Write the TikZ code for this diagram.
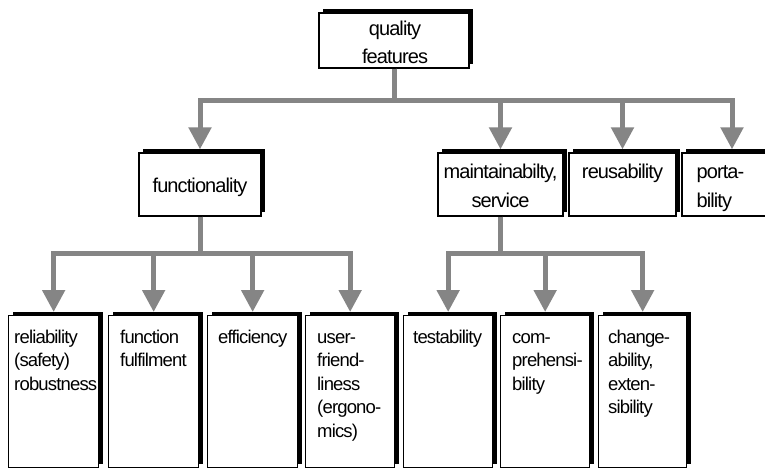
\documentclass[tikz,border=0pt]{standalone}
\usepackage{fontspec}
\setmainfont{Liberation Sans}[LetterSpace=-4.5]
\usetikzlibrary{arrows.meta,shadows}

\definecolor{connGray}{HTML}{858585}

\tikzset{
  % framed box with a solid shadow thrown to the upper right
  featbox/.style={draw=black, line width=1.3pt, fill=white, inner sep=0pt,
    drop shadow={shadow xshift=4pt, shadow yshift=4pt, opacity=1, fill=black}},
  midtext/.style={inner sep=0pt, font=\fontsize{20}{29}\selectfont},
  leaftext/.style={inner sep=0pt, anchor=north west, align=left,
    font=\fontsize{18.5}{23.5}\selectfont},
  conn/.style={draw=connGray, line width=5pt,
    -{Triangle[width=22pt,length=22pt]}},
}

\begin{document}
\begin{tikzpicture}[x=1pt,y=-1pt]
\clip (0,0) rectangle (765,469);
\fill[white] (0,0) rectangle (765,469);

% top level
\node[featbox, minimum width=150pt, minimum height=55pt] (q) at (394,40.5) {};
\node[midtext, align=center, anchor=north, font=\fontsize{20}{28}\selectfont] (qt) at (395,15.4) {\strut quality\\features};

% second level
\node[featbox, minimum width=122pt, minimum height=63pt] (func) at (200,184.5) {};
\node[midtext, anchor=base] (funct) at (200,192) {functionality};
\node[featbox, minimum width=125pt, minimum height=63pt] (maint) at (500.5,184.5) {};
\node[midtext, align=center, anchor=north] (maintt) at ([yshift=-6pt]maint.north) {\strut maintainabilty,\\service};
\node[featbox, minimum width=107pt, minimum height=63pt] (reus) at (622.5,184.5) {};
\node[midtext, align=center, anchor=north] (reust) at ([yshift=-6pt]reus.north) {\strut reusability};
\node[featbox, minimum width=100pt, minimum height=63pt] (port) at (732,184.5) {};
\node[midtext, align=left, anchor=north west] (portt) at ([xshift=15pt,yshift=-6pt]port.north west) {\strut porta-\\bility};

% third level
\foreach \nm/\xl/\xr in {rel/8/98, fulf/108/198, eff/207/297, user/305/394,
                         test/403/492, comp/500/589, chg/598/686}{
  \node[featbox, anchor=north west, minimum width={\xr-\xl}, minimum height=152pt]
    (\nm) at (\xl,315) {};
}
\node[leaftext] (relt)  at ([xshift=6pt,yshift=-11.5pt]rel.north west)  {\strut reliability\\(safety)\\robustness};
\node[leaftext] (fulft) at ([xshift=12pt,yshift=-11.5pt]fulf.north west) {\strut function\\fulfilment};
\node[leaftext] (efft)  at ([xshift=11pt,yshift=-11.5pt]eff.north west)  {\strut efficiency};
\node[leaftext] (usert) at ([xshift=12pt,yshift=-11.5pt]user.north west) {\strut user-\\friend-\\liness\\(ergono-\\mics)};
\node[leaftext] (testt) at ([xshift=10pt,yshift=-11.5pt]test.north west) {\strut testability};
\node[leaftext] (compt) at ([xshift=12pt,yshift=-11.5pt]comp.north west) {\strut com-\\prehensi-\\bility};
\node[leaftext] (chgt)  at ([xshift=10pt,yshift=-11.5pt]chg.north west)  {\strut change-\\ability,\\exten-\\sibility};

% bus lines
\coordinate (topbus) at (395,100);
\coordinate (leftbus) at (200,253);
\coordinate (rightbus) at (500,253);

% connectors
\foreach \c in {func, maint, reus, port}{
  \draw[conn] (q.south) -- (q.south |- topbus) -| ([yshift=3pt]\c.north);
}
\foreach \c in {rel, fulf, eff, user}{
  \draw[conn] (func.south) -- (func.south |- leftbus) -| ([yshift=3pt]\c.north);
}
\foreach \c in {test, comp, chg}{
  \draw[conn] (maint.south) -- (maint.south |- rightbus) -| ([yshift=3pt]\c.north);
}
\end{tikzpicture}
\end{document}
